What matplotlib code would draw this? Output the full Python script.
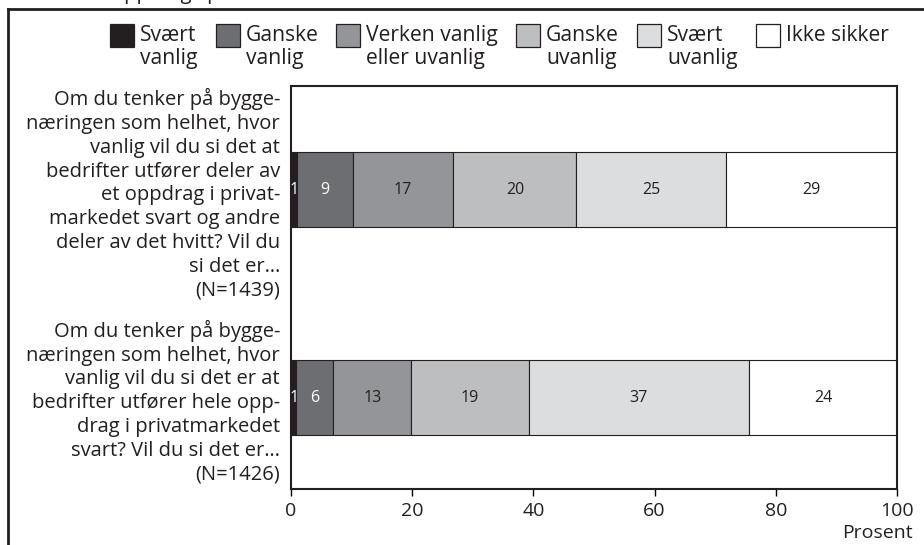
import numpy as np
import matplotlib.pyplot as plt
from matplotlib.patches import Rectangle
from matplotlib.lines import Line2D

plt.rcParams['font.family'] = ['Open Sans', 'DejaVu Sans']

# spørsmål (y-akse)
categories = [
    'Om du tenker på bygge-\nnæringen som helhet, hvor\nvanlig vil du si det at\n'
    'bedrifter utfører deler av\net oppdrag i privat-\nmarkedet svart og andre\n'
    'deler av det hvitt? Vil du\nsi det er…\n(N=1439)',
    'Om du tenker på bygge-\nnæringen som helhet, hvor\nvanlig vil du si det er at\n'
    'bedrifter utfører hele opp-\ndrag i privatmarkedet\nsvart? Vil du si det er…\n(N=1426)',
]
series_names = ['Svært\nvanlig', 'Ganske\nvanlig', 'Verken vanlig\neller uvanlig',
                'Ganske\nuvanlig', 'Svært\nuvanlig', 'Ikke sikker']
colors = ['#231f20', '#6d6e71', '#939598', '#bcbec0', '#dcddde', '#ffffff']

# prosent per svaralternativ (lest av figuren), og tallene som står i søylene
svaert_vanlig = [1.0, 0.9]
ganske_vanlig = [9.2, 6.1]
verken = [16.6, 12.8]
ganske_uvanlig = [20.3, 19.4]
svaert_uvanlig = [24.6, 36.4]
ikke_sikker = [28.3, 24.4]
values = [svaert_vanlig, ganske_vanlig, verken, ganske_uvanlig, svaert_uvanlig, ikke_sikker]
bar_labels = [['1', '1'], ['9', '6'], ['17', '13'], ['20', '19'], ['25', '37'], ['29', '24']]

W, H = 924, 545
fig = plt.figure(figsize=(W / 100, H / 100), dpi=100)
ax = fig.add_axes([291 / W, 1 - 489 / H, (897 - 291) / W, (489 - 86) / H])

y = np.arange(len(categories))
left = np.zeros(len(categories))
for i, vals in enumerate(values):
    vals = np.array(vals)
    ax.barh(y, vals, left=left, height=0.36, color=colors[i],
            edgecolor='#231f20', linewidth=0.8)
    tc = 'white' if i < 2 else '#231f20'
    for j in range(len(y)):
        ax.text(left[j] + vals[j] / 2, y[j], bar_labels[i][j], ha='center', va='center',
                fontsize=11.5, color=tc)
    left = left + vals

ax.set_xlim(0, 100)
ax.set_ylim(1.44, -0.5)
ax.set_xticks(range(0, 101, 20))
ax.set_yticks(y, categories)
ax.tick_params(axis='y', length=0, pad=8, labelsize=14.5, labelcolor='#231f20')
ax.tick_params(axis='x', length=5, width=1, labelsize=14, pad=4, labelcolor='#231f20')
for t in ax.get_yticklabels():
    t.set_linespacing(1.25)
for s in ax.spines.values():
    s.set_linewidth(1.5)
    s.set_color('#231f20')

fig.text(913 / W, 1 - 533 / H, 'Prosent', ha='right', va='center', fontsize=14, color='#231f20')

# avkuttet tittel og ramme rundt figuren
fig.text(112 / W, 1 + 0.5 / H, 'oppdrag i privatmarkedet', va='baseline', fontsize=14.5,
         color='#231f20')
fig.add_artist(Line2D([8 / W, 1], [1 - 9 / H, 1 - 9 / H], color='#231f20', lw=2))
fig.add_artist(Line2D([8 / W, 8 / W], [0, 1 - 9 / H], color='#231f20', lw=2))

# tegnforklaring
renderer = fig.canvas.get_renderer()
x = 110
for name, c in zip(series_names, colors):
    fig.add_artist(Rectangle((x / W, 1 - 47 / H), 24 / W, 23 / H, transform=fig.transFigure,
                             facecolor=c, edgecolor='#231f20', linewidth=0.9))
    t = fig.text((x + 30) / W, 1 - 25 / H, name, ha='left', va='top', fontsize=15.2,
                 linespacing=1.1, color='#231f20')
    bb = t.get_window_extent(renderer)
    x = bb.x1 + 18

fig.savefig('out.png', dpi=100)
